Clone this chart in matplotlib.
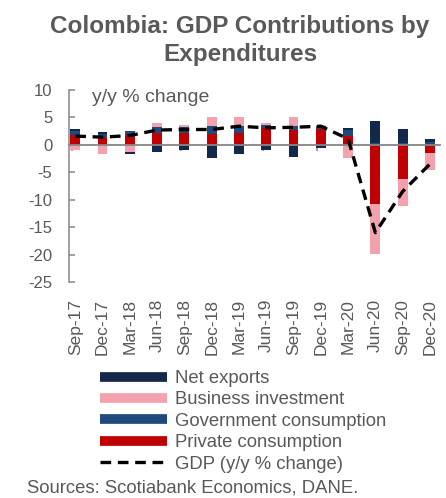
import matplotlib
matplotlib.use("Agg")
import matplotlib.pyplot as plt
from matplotlib.lines import Line2D
import numpy as np

plt.rcParams['font.family'] = ['Liberation Sans', 'DejaVu Sans']
plt.rcParams['axes.unicode_minus'] = False

quarters = ["Sep-17", "Dec-17", "Mar-18", "Jun-18", "Sep-18", "Dec-18", "Mar-19",
            "Jun-19", "Sep-19", "Dec-19", "Mar-20", "Jun-20", "Sep-20", "Dec-20"]
private_consumption = [1.85, 1.35, 1.85, 2.1, 2.1, 2.0, 2.1, 3.0, 2.7, 2.8, 1.6, -10.85, -6.2, -1.5]
government_consumption = [0.6, 0.7, 0.6, 1.1, 1.2, 1.4, 1.3, 0.7, 0.8, 0.65, 1.1, 0.4, 0.3, 0.5]
business_investment = [-1.0, -1.6, -1.35, 0.75, 0.4, 1.6, 1.6, 0.3, 1.5, 0.1, -2.4, -9.0, -4.9, -3.0]
net_exports = [0.35, 0.25, -0.25, -1.35, -1.0, -2.4, -1.6, -1.0, -2.3, -0.5, 0.35, 3.9, 2.5, 0.6]
gdp = [1.6, 1.4, 1.7, 2.7, 2.8, 2.8, 3.4, 3.1, 3.2, 3.4, 1.1, -16.0, -8.5, -3.5]

series = [
    ("Private consumption", private_consumption, "#C00000"),
    ("Government consumption", government_consumption, "#1F4A7E"),
    ("Business investment", business_investment, "#F4A1AF"),
    ("Net exports", net_exports, "#13294B"),
]

gray = "#595959"
axis_gray = "#868686"

fig = plt.figure(figsize=(4.46, 4.98), dpi=100)
ax = fig.add_axes([69/446, 1-282/498, (440-69)/446, (282-90)/498])

x = np.arange(len(quarters))
pos_base = np.zeros(len(x))
neg_base = np.zeros(len(x))
width = 0.36
for name, vals, col in series:
    v = np.array(vals)
    pos = np.where(v > 0, v, 0)
    neg = np.where(v < 0, v, 0)
    ax.bar(x, pos, width, bottom=pos_base, color=col, zorder=2)
    ax.bar(x, neg, width, bottom=neg_base, color=col, zorder=2)
    pos_base += pos
    neg_base += neg

ax.plot(x, gdp, color="black", lw=2.4, dashes=(3.2, 2.0), zorder=4)

ax.set_xlim(-0.23, 13.37)
ax.set_ylim(-25, 10)
ax.set_yticks(np.arange(-25, 11, 5))
ax.tick_params(axis='y', direction='in', length=4, width=1.1, color=axis_gray,
               labelsize=12, labelcolor=gray, pad=12)
for s in ['top', 'right']:
    ax.spines[s].set_visible(False)
ax.spines['left'].set_color(axis_gray)
ax.spines['left'].set_linewidth(1.1)
ax.spines['bottom'].set_position(('data', 0))
ax.spines['bottom'].set_color(axis_gray)
ax.spines['bottom'].set_linewidth(1.3)
ax.spines['bottom'].set_zorder(3)
ax.set_xticks(x - 0.13)
ax.tick_params(axis='x', direction='out', length=4, width=1.1, color=axis_gray, labelbottom=False)

sec = ax.secondary_xaxis(0)
sec.set_xticks(x, quarters, rotation=90)
sec.tick_params(axis='x', length=0, labelsize=12.5, labelcolor=gray, pad=12)
sec.spines['bottom'].set_visible(False)

fig.text(240/446, 1-27/498, "Colombia: GDP Contributions by", ha='center', va='center',
         fontsize=17.5, fontweight='bold', color=gray)
fig.text(240/446, 1-55/498, "Expenditures", ha='center', va='center',
         fontsize=17.5, fontweight='bold', color=gray)
fig.text(92/446, 1-97/498, "y/y % change", ha='left', va='center', fontsize=14, color=gray)

handles = [
    Line2D([], [], color="#13294B", lw=7, solid_capstyle='butt'),
    Line2D([], [], color="#F4A1AF", lw=7, solid_capstyle='butt'),
    Line2D([], [], color="#1F4A7E", lw=7, solid_capstyle='butt'),
    Line2D([], [], color="#C00000", lw=7, solid_capstyle='butt'),
    Line2D([], [], color="black", lw=2.4, dashes=(3.2, 2.0)),
]
labels = ["Net exports", "Business investment", "Government consumption",
          "Private consumption", "GDP (y/y % change)"]
leg = fig.legend(handles, labels, loc='upper left', bbox_to_anchor=(100/446, 1-370/498),
                 frameon=False, fontsize=13.3, handlelength=3.6, handletextpad=0.45,
                 labelspacing=0.24, borderpad=0, borderaxespad=0)
for t in leg.get_texts():
    t.set_color(gray)

fig.text(27/446, 1-488/498, "Sources: Scotiabank Economics, DANE.", ha='left', va='center',
         fontsize=13.3, color=gray)

fig.savefig("out.png", dpi=100)
